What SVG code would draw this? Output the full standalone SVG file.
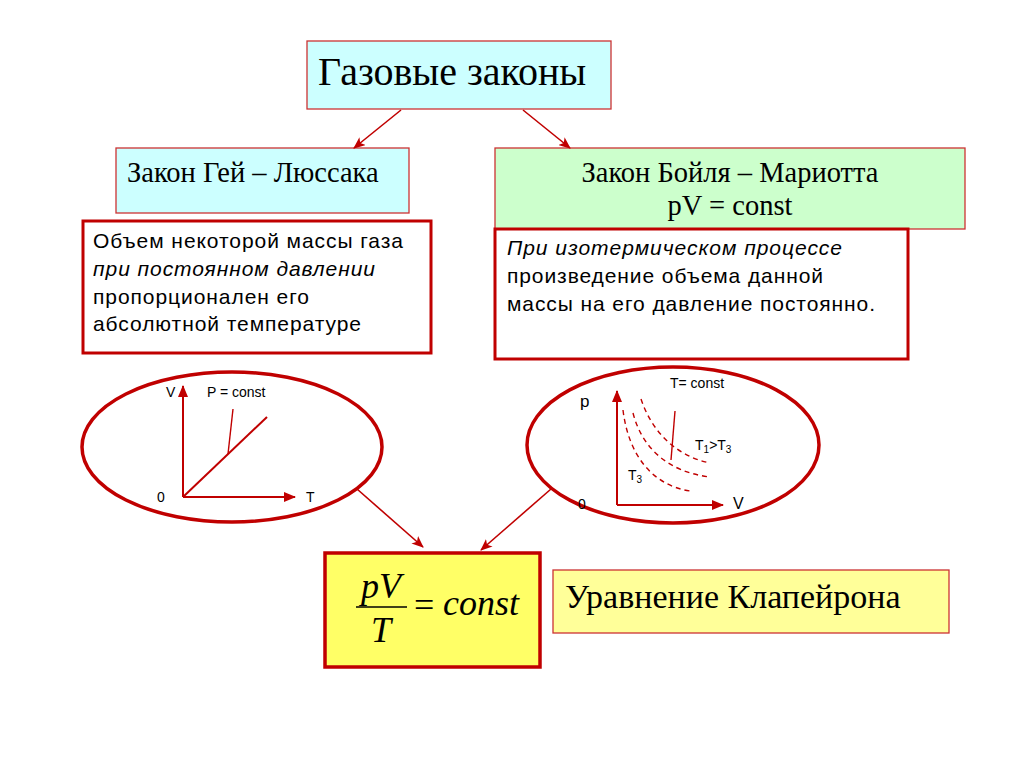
<svg xmlns="http://www.w3.org/2000/svg" width="1024" height="767" viewBox="0 0 1024 767">
<defs>
<marker id="arr" markerWidth="12" markerHeight="10" refX="11" refY="5" orient="auto" markerUnits="userSpaceOnUse">
<path d="M0,0 L12,5 L0,10 L3,5 Z" fill="#c00000"/>
</marker>
<marker id="axarr" markerWidth="12" markerHeight="10" refX="11" refY="5" orient="auto" markerUnits="userSpaceOnUse">
<path d="M0,0 L12,5 L0,10 Z" fill="#c00000"/>
</marker>
</defs>
<style>
.thin{stroke:#cc3333;stroke-width:1.3}
.thick{fill:#fff;stroke:#c00000;stroke-width:3}
.ell{fill:#fff;stroke:#c00000;stroke-width:3.5}
.tnr{font-family:"Liberation Serif","Times New Roman",serif;fill:#000}
.ar{font-family:"Liberation Sans",Arial,sans-serif;fill:#000}
.body{font-size:21px}
.lbl{font-size:14px}
.conn{stroke:#c00000;stroke-width:1.6;fill:none}
.ax{stroke:#c00000;stroke-width:2;fill:none}
.dash{stroke:#c00000;stroke-width:1.4;fill:none;stroke-dasharray:5,4}
</style>
<rect width="1024" height="767" fill="#fff"/>

<g id="title">
<rect x="307" y="41" width="304" height="68" fill="#ccffff" class="thin"/>
<text x="318" y="85" class="tnr" font-size="40">Газовые законы</text>
</g>

<g id="gay-lussac">
<rect x="116" y="148" width="293" height="65" fill="#ccffff" class="thin"/>
<text x="127" y="182" class="tnr" font-size="28.5">Закон Гей – Люссака</text>
</g>

<g id="boyle">
<rect x="495" y="148" width="470" height="81" fill="#ccffcc" class="thin"/>
<text x="730" y="182" class="tnr" font-size="28.5" text-anchor="middle">Закон Бойля – Мариотта</text>
<text x="730" y="215" class="tnr" font-size="28.5" text-anchor="middle">pV = const</text>
</g>

<g id="def-gay">
<rect x="83" y="221" width="348" height="132" class="thick"/>
<text x="93" y="248" class="ar body" textLength="310" lengthAdjust="spacing">Объем некоторой массы газа</text>
<text x="93" y="276" class="ar body" font-style="italic" textLength="282" lengthAdjust="spacing">при постоянном давлении</text>
<text x="93" y="304" class="ar body" textLength="216" lengthAdjust="spacing">пропорционален его</text>
<text x="93" y="331" class="ar body" textLength="268" lengthAdjust="spacing">абсолютной температуре</text>
</g>

<g id="def-boyle">
<rect x="495" y="229" width="413" height="130" class="thick"/>
<text x="507" y="255" class="ar body" font-style="italic" textLength="335" lengthAdjust="spacing">При изотермическом процессе</text>
<text x="507" y="283" class="ar body" textLength="316" lengthAdjust="spacing">произведение объема данной</text>
<text x="507" y="311" class="ar body" textLength="368" lengthAdjust="spacing">массы на его давление постоянно.</text>
</g>

<g id="graph-isobar">
<ellipse cx="232" cy="447" rx="150" ry="75" class="ell"/>
<line x1="183" y1="497" x2="183" y2="386" class="ax" marker-end="url(#axarr)"/>
<line x1="183" y1="497" x2="295" y2="497" class="ax" marker-end="url(#axarr)"/>
<line x1="183" y1="497" x2="267" y2="417" class="ax"/>
<line x1="233" y1="409" x2="228" y2="454" stroke="#c00000" stroke-width="1.4"/>
<text x="166" y="397" class="ar lbl">V</text>
<text x="207" y="397" class="ar lbl">P = const</text>
<text x="157" y="502" class="ar lbl">0</text>
<text x="306" y="502" class="ar lbl">T</text>
</g>

<g id="graph-isotherm">
<ellipse cx="673" cy="445" rx="146" ry="78" class="ell"/>
<line x1="617" y1="505" x2="617" y2="391" class="ax" marker-end="url(#axarr)"/>
<line x1="617" y1="505" x2="723" y2="505" class="ax" marker-end="url(#axarr)"/>
<path d="M623,410 C628,452 650,485 690,491" class="dash"/>
<path d="M633,413 C642,448 668,472 710,477" class="dash"/>
<path d="M641,399 C652,432 676,456 710,463" class="dash"/>
<line x1="675" y1="411" x2="671" y2="460" stroke="#c00000" stroke-width="1.4"/>
<text x="580" y="407" class="ar" font-size="17">p</text>
<text x="670" y="388" class="ar lbl">T= const</text>
<text x="695" y="450" class="ar lbl">T<tspan font-size="10" dy="3">1</tspan><tspan dy="-3">&gt;T</tspan><tspan font-size="10" dy="3">3</tspan></text>
<text x="628" y="480" class="ar lbl">T<tspan font-size="10" dy="3">3</tspan></text>
<text x="578" y="509" class="ar lbl">0</text>
<text x="733" y="509" class="ar" font-size="16">V</text>
</g>

<g id="formula">
<rect x="325" y="553" width="215" height="114" fill="#ffff66" stroke="#c00000" stroke-width="3.5"/>
<text x="381" y="598" class="tnr" font-size="36" font-style="italic" text-anchor="middle">pV</text>
<line x1="356" y1="607" x2="407" y2="607" stroke="#000" stroke-width="1.5"/>
<text x="381" y="642" class="tnr" font-size="36" font-style="italic" text-anchor="middle">T</text>
<text x="414" y="617" class="tnr" font-size="36">=</text>
<text x="443" y="615" class="tnr" font-size="36" font-style="italic">const</text>
</g>

<g id="clapeyron">
<rect x="553" y="570" width="396" height="63" fill="#ffff99" class="thin"/>
<text x="565" y="608" class="tnr" font-size="34">Уравнение Клапейрона</text>
</g>

<g id="connectors">
<line x1="401" y1="110" x2="354" y2="148" class="conn" marker-end="url(#arr)"/>
<line x1="523" y1="110" x2="570" y2="148" class="conn" marker-end="url(#arr)"/>
<line x1="357" y1="489" x2="423" y2="547" class="conn" marker-end="url(#arr)"/>
<line x1="551" y1="489" x2="481" y2="550" class="conn" marker-end="url(#arr)"/>
</g>
</svg>
